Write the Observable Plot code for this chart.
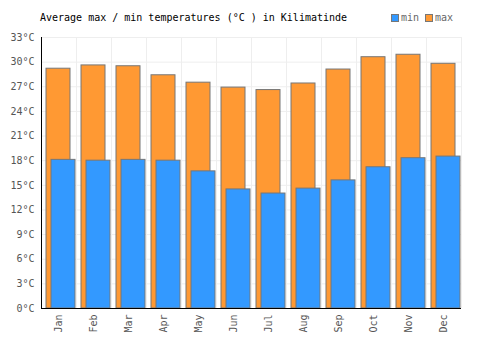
<!DOCTYPE html>
<html>
<head>
<meta charset="utf-8">
<script src="https://cdn.jsdelivr.net/npm/d3@7"></script>
<script src="https://cdn.jsdelivr.net/npm/@observablehq/plot@0.6"></script>
<style>
  body { margin: 0; background: #fff; }
  #wrap { position: relative; width: 500px; height: 350px; font-family: "DejaVu Sans Mono", monospace; }
  #title { position: absolute; left: 40px; top: 12px; font-size: 10px; color: #000; white-space: pre; }
  .leg { position: absolute; top: 12px; font-size: 10px; color: #666; display: flex; align-items: center; }
  .sw { width: 6px; height: 6px; border: 1px solid #777; margin-right: 2px; }
</style>
</head>
<body>
<div id="wrap">
  <div id="chart"></div>
  <div id="title">Average max / min temperatures (°C ) in Kilimatinde</div>
  <div class="leg" style="left:391px"><span class="sw" style="background:#3399ff"></span>min</div>
  <div class="leg" style="left:425px"><span class="sw" style="background:#ff9933"></span>max</div>
</div>
<script>
const months = ["Jan","Feb","Mar","Apr","May","Jun","Jul","Aug","Sep","Oct","Nov","Dec"];
const maxTemps = [29.2, 29.6, 29.5, 28.4, 27.5, 26.9, 26.6, 27.4, 29.1, 30.6, 30.9, 29.8];
const minTemps = [18.1, 18.0, 18.1, 18.0, 16.7, 14.5, 14.0, 14.6, 15.6, 17.2, 18.3, 18.5];
const yTicks = [0, 3, 6, 9, 12, 15, 18, 21, 24, 27, 30, 33];

const data = months.map((m, i) => ({month: m, max: maxTemps[i], min: minTemps[i]}));
const half = 17.5;

const chart = Plot.plot({
  width: 500,
  height: 350,
  marginLeft: 41,
  marginRight: 39,
  marginTop: 37,
  marginBottom: 42,
  style: {fontFamily: "DejaVu Sans Mono, monospace", fontSize: "10px", background: "#fff"},
  x: {domain: months, paddingInner: 0, paddingOuter: 0, label: null},
  y: {domain: [0, 33], label: null},
  marks: [
    Plot.gridY(yTicks, {stroke: "#eeeeee", strokeOpacity: 1}),
    Plot.ruleX(months, {x: d => d, dx: -half, stroke: "#eeeeee", strokeOpacity: 1}),
    Plot.ruleX(["Dec"], {x: d => d, dx: half, stroke: "#eeeeee", strokeOpacity: 1}),
    Plot.barY(data, {x: "month", y: "max", fill: "#ff9933", stroke: "#777", strokeWidth: 1, insetLeft: 5, insetRight: 6}),
    Plot.barY(data, {x: "month", y: "min", fill: "#3399ff", stroke: "#777", strokeWidth: 1, insetLeft: 10, insetRight: 1}),
    Plot.ruleX(["Jan"], {x: d => d, dx: -half, y1: 0, y2: 33, stroke: "#000"}),
    Plot.ruleY([0], {stroke: "#000"}),
    Plot.axisY({ticks: yTicks, tickSize: 0, tickPadding: 7, tickFormat: d => d + "°C", fill: "#555", label: null}),
    Plot.axisX({tickRotate: -90, tickSize: 0, tickPadding: 6, fill: "#555", label: null})
  ]
});
document.getElementById("chart").appendChild(chart);
</script>
</body>
</html>
